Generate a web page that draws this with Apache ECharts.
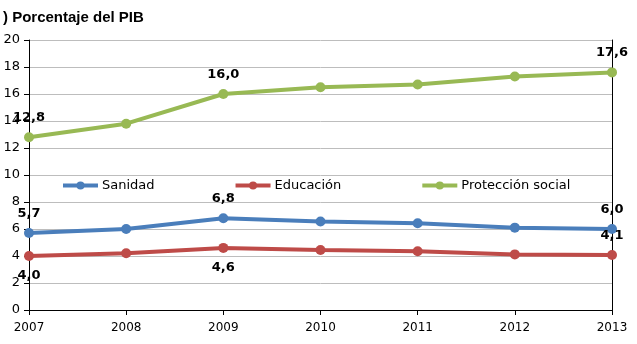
<!DOCTYPE html>
<html><head><meta charset="utf-8">
<script src="https://cdn.jsdelivr.net/npm/echarts@6/dist/echarts.min.js"></script>
<style>html,body{margin:0;padding:0;background:#fff}#c{width:637px;height:344px}</style>
</head><body><div id="c"></div>
<script>
const years = ['2007','2008','2009','2010','2011','2012','2013'];
const sanidad = [5.7, 6.0, 6.8, 6.55, 6.42, 6.1, 6.0];
const educacion = [4.0, 4.2, 4.6, 4.45, 4.35, 4.12, 4.07];
const proteccion = [12.8, 13.8, 16.0, 16.5, 16.7, 17.3, 17.6];
const sanidadLabels = ['5,7', '', '6,8', '', '', '', '6,0'];
const educacionLabels = ['4,0', '', '4,6', '', '', '', '4,1'];
const proteccionLabels = ['12,8', '', '16,0', '', '', '', '17,6'];
const yTicks = [0, 2, 4, 6, 8, 10, 12, 14, 16, 18, 20];

const font = 'DejaVu Sans';
function mk(name, data, labels, color, positions) {
  return {
    name, type: 'line', data: data.map((v, i) => ({
      value: v,
      label: labels[i] ? {show: true, formatter: labels[i], position: positions[i] || 'top', distance: 8} : {show: false}
    })),
    symbol: 'circle', symbolSize: 10, lineStyle: {width: 4, color}, itemStyle: {color},
    label: {fontFamily: 'DejaVu Sans', fontWeight: 'bold', fontSize: 13, color: '#000'},
    z: 3
  };
}
const chart = echarts.init(document.getElementById('c'));
chart.setOption({
  animation: false,
  title: {text: ') Porcentaje del PIB', left: -2, top: 5, textStyle: {fontFamily: 'Liberation Sans', fontWeight: 'bold', fontSize: 15, color: '#000'}},
  legend: {left: 61, top: 179, padding: 0, itemGap: 79, itemWidth: 35, itemHeight: 10,
    lineStyle: {width: 4},
    textStyle: {fontFamily: font, fontSize: 13, color: '#000', padding: [0, 0, 0, -1]},
    data: ['Sanidad', 'Educación', 'Protección social']},
  grid: {left: 29, right: 25, top: 40, bottom: 34},
  xAxis: {type: 'category', data: years, boundaryGap: false,
    axisLine: {lineStyle: {color: '#000', width: 1}},
    axisTick: {show: true, length: 5, lineStyle: {color: '#000'}},
    axisLabel: {fontFamily: font, fontSize: 12, color: '#000', margin: 12},
    splitLine: {show: false}},
  yAxis: [{type: 'value', min: 0, max: 20, interval: 2,
    axisLine: {show: true, lineStyle: {color: '#000'}},
    axisTick: {show: true, length: 5, lineStyle: {color: '#000'}},
    axisLabel: {fontFamily: font, fontSize: 13, color: '#000', margin: 9, formatter: v => yTicks.includes(v) ? String(v) : ''},
    splitLine: {lineStyle: {color: '#bdbdbd', width: 1}}},
    {type: 'value', min: 0, max: 20, interval: 2, position: 'right',
    axisLine: {show: true, lineStyle: {color: '#000'}}, axisTick: {show: false},
    axisLabel: {show: false}, splitLine: {show: false}}],
  series: [
    mk('Sanidad', sanidad, sanidadLabels, '#4a7ebb', ['top', null, 'top', null, null, null, 'top']),
    mk('Educación', educacion, educacionLabels, '#be4b48', ['bottom', null, 'bottom', null, null, null, 'top']),
    mk('Protección social', proteccion, proteccionLabels, '#98b954', ['top', null, 'top', null, null, null, 'top'])
  ]
});
</script></body></html>
